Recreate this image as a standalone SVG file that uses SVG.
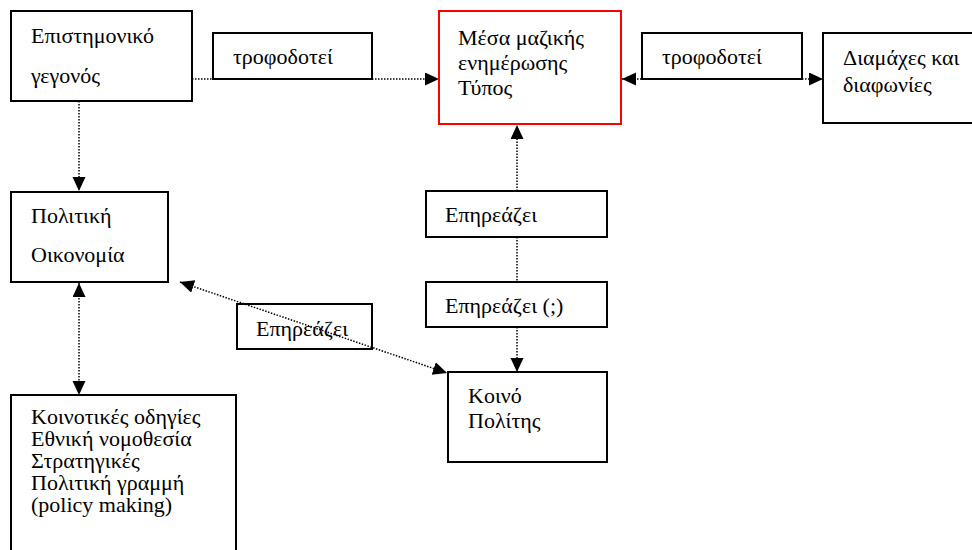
<svg xmlns="http://www.w3.org/2000/svg" width="972" height="550" viewBox="0 0 972 550">
<style>
.box{fill:#fff;stroke:#000;stroke-width:2}
.red{fill:#fff;stroke:#f00;stroke-width:2}
.c{stroke:#000;stroke-width:1.5;stroke-dasharray:1.5 1.5;fill:none}
</style>
<defs>
<marker id="ah" markerUnits="userSpaceOnUse" markerWidth="15" markerHeight="14" refX="14" refY="6.5" orient="auto-start-reverse" viewBox="0 0 15 14">
<path d="M0,0 L14,6.5 L0,13 Z" fill="#000"/>
</marker>
</defs>
<rect width="972" height="550" fill="#fff"/>
<g id="connectors">
<line class="c" x1="192" y1="79" x2="439" y2="79" marker-end="url(#ah)"/>
<line class="c" x1="622" y1="79" x2="823" y2="79" marker-start="url(#ah)" marker-end="url(#ah)"/>
<line class="c" x1="79" y1="101" x2="79" y2="191" marker-end="url(#ah)"/>
<line class="c" x1="79" y1="283" x2="79" y2="395" marker-start="url(#ah)" marker-end="url(#ah)"/>
<line class="c" x1="517" y1="191" x2="517" y2="125" marker-end="url(#ah)"/>
<line class="c" x1="517" y1="237" x2="517" y2="282"/>
<line class="c" x1="517" y1="327" x2="517" y2="372" marker-end="url(#ah)"/>
</g>
<g id="n-epist">
<rect class="box" x="11" y="11" width="181" height="90"/>
<text x="31" y="43" style="font-family:'Liberation Serif',serif;font-size:22px">Επιστημονικό</text>
<text x="31" y="83" style="font-family:'Liberation Serif',serif;font-size:22px">γεγονός</text>
</g>
<g id="l-trof1">
<rect class="box" x="213" y="33" width="159" height="46"/>
<text x="233" y="64" style="font-family:'Liberation Serif',serif;font-size:22px">τροφοδοτεί</text>
</g>
<g id="n-mme">
<rect class="red" x="439" y="11" width="182" height="113"/>
<text x="458" y="45" style="font-family:'Liberation Serif',serif;font-size:22px">Μέσα μαζικής</text>
<text x="458" y="70" style="font-family:'Liberation Serif',serif;font-size:22px">ενημέρωσης</text>
<text x="458" y="95" style="font-family:'Liberation Serif',serif;font-size:22px">Τύπος</text>
</g>
<g id="l-trof2">
<rect class="box" x="642" y="33" width="160" height="46"/>
<text x="662" y="64" style="font-family:'Liberation Serif',serif;font-size:22px">τροφοδοτεί</text>
</g>
<g id="n-diam">
<rect class="box" x="823" y="33" width="160" height="90"/>
<text x="843" y="65" style="font-family:'Liberation Serif',serif;font-size:22px">Διαμάχες και</text>
<text x="843" y="92" style="font-family:'Liberation Serif',serif;font-size:22px">διαφωνίες</text>
</g>
<g id="n-polit">
<rect class="box" x="11" y="192" width="157" height="90"/>
<text x="31" y="223" style="font-family:'Liberation Serif',serif;font-size:22px">Πολιτική</text>
<text x="31" y="262" style="font-family:'Liberation Serif',serif;font-size:22px">Οικονομία</text>
</g>
<g id="l-epir1">
<rect class="box" x="426" y="191" width="181" height="46"/>
<text x="445" y="222" style="font-family:'Liberation Serif',serif;font-size:22px">Επηρεάζει</text>
</g>
<g id="l-epir2">
<rect class="box" x="426" y="282" width="181" height="45"/>
<text x="445" y="313" style="font-family:'Liberation Serif',serif;font-size:22px">Επηρεάζει (;)</text>
</g>
<g id="l-epir3">
<rect class="box" x="237" y="304" width="135" height="45"/>
<text x="256" y="336" style="font-family:'Liberation Serif',serif;font-size:22px">Επηρεάζει</text>
</g>
<g id="n-koino">
<rect class="box" x="448" y="372" width="159" height="90"/>
<text x="468" y="403" style="font-family:'Liberation Serif',serif;font-size:22px">Κοινό</text>
<text x="468" y="428" style="font-family:'Liberation Serif',serif;font-size:22px">Πολίτης</text>
</g>
<g id="n-policy">
<rect class="box" x="11" y="395" width="225" height="165"/>
<text x="31" y="424" style="font-family:'Liberation Serif',serif;font-size:22px">Κοινοτικές οδηγίες</text>
<text x="31" y="446" style="font-family:'Liberation Serif',serif;font-size:22px">Εθνική νομοθεσία</text>
<text x="31" y="468" style="font-family:'Liberation Serif',serif;font-size:22px">Στρατηγικές</text>
<text x="31" y="490" style="font-family:'Liberation Serif',serif;font-size:22px">Πολιτική γραμμή</text>
<text x="31" y="512" style="font-family:'Liberation Serif',serif;font-size:22px">(policy making)</text>
</g>
<g id="connectors-over">
<line class="c" x1="180" y1="282" x2="447" y2="373" marker-start="url(#ah)" marker-end="url(#ah)"/>
</g>
</svg>
